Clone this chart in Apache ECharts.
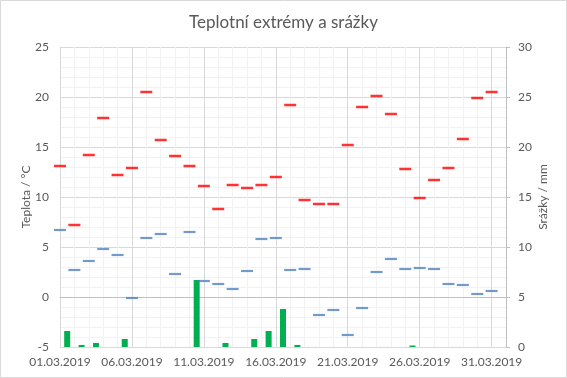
<!DOCTYPE html>
<html><head><meta charset="utf-8">
<script src="https://cdn.jsdelivr.net/npm/echarts@6/dist/echarts.min.js"></script>
<style>html,body{margin:0;padding:0;background:#fff}#c{width:567px;height:378px}</style>
</head><body><div id="c"></div>
<script>
var dates = ['01.03.2019','02.03.2019','03.03.2019','04.03.2019','05.03.2019','06.03.2019','07.03.2019','08.03.2019','09.03.2019','10.03.2019','11.03.2019','12.03.2019','13.03.2019','14.03.2019','15.03.2019','16.03.2019','17.03.2019','18.03.2019','19.03.2019','20.03.2019','21.03.2019','22.03.2019','23.03.2019','24.03.2019','25.03.2019','26.03.2019','27.03.2019','28.03.2019','29.03.2019','30.03.2019','31.03.2019'];
var tMax = [13.1,7.2,14.2,17.9,12.2,12.9,20.5,15.7,14.1,13.1,11.1,8.8,11.2,10.9,11.2,12.0,19.2,9.7,9.3,9.3,15.2,19.0,20.1,18.3,12.8,9.9,11.7,12.9,15.8,19.9,20.5];
var tMin = [6.7,2.7,3.6,4.8,4.2,-0.1,5.9,6.3,2.3,6.5,1.6,1.3,0.8,2.6,5.8,5.9,2.7,2.8,-1.8,-1.3,-3.8,-1.1,2.5,3.8,2.8,2.9,2.8,1.3,1.2,0.3,0.6];
var precip = [1.6,0.2,0.4,0,0.8,0,0,0,0,6.7,0,0.4,0,0.8,1.6,3.8,0.2,0,0,0,0,0,0,0,0.15,0,0,0,0,0,0];
var tempTicks = {min:-5, max:25, interval:5};
var rainTicks = {min:0, max:30, interval:5};

var FONT = 'Lato';
var TXT = '#595959';
var chart = echarts.init(document.getElementById('c'), null, {renderer:'canvas'});
chart.setOption({
  animation:false,
  textStyle:{fontFamily:FONT},
  title:{text:'Teplotní extrémy a srážky', left:'center', top:9,
    textStyle:{fontFamily:FONT, fontSize:17, fontWeight:'normal', color:TXT}},
  graphic:[{type:'rect', shape:{x:0.5,y:0.5,width:566,height:377}, style:{fill:'none', stroke:'#D9D9D9', lineWidth:1}, silent:true}],
  grid:{left:60, right:61, top:47, bottom:31, containLabel:false},
  xAxis:[
    {type:'category', data:dates.concat(['01.04.2019']), boundaryGap:false, z:1,
     axisLine:{show:true, lineStyle:{color:'#BFBFBF'}}, axisTick:{show:false},
     axisLabel:{interval:4, color:TXT, fontSize:12, margin:9, fontFamily:FONT},
     splitLine:{show:true, interval:4, lineStyle:{color:'#D9D9D9'}}},
    {type:'category', data:dates, boundaryGap:true, position:'bottom', z:0,
     axisLine:{show:false}, axisTick:{show:false}, axisLabel:{show:false},
     splitLine:{show:true, interval:0, lineStyle:{color:'#F2F2F2'}}}
  ],
  yAxis:[
    {type:'value', min:tempTicks.min, max:tempTicks.max, interval:tempTicks.interval,
     name:'Teplota / °C', nameLocation:'middle', nameGap:28, nameMoveOverlap:false,
     nameTextStyle:{color:TXT, fontSize:12, fontFamily:FONT},
     axisLine:{show:true, lineStyle:{color:'#D9D9D9'}}, axisTick:{show:false},
     axisLabel:{color:TXT, fontSize:12, margin:11, fontFamily:FONT},
     splitLine:{show:true, lineStyle:{color:'#D9D9D9'}},
     minorTick:{show:false, splitNumber:5},
     minorSplitLine:{show:true, lineStyle:{color:'#F2F2F2'}}},
    {type:'value', min:rainTicks.min, max:rainTicks.max, interval:rainTicks.interval, position:'right',
     name:'Srážky / mm', nameLocation:'middle', nameGap:31, nameRotate:90, nameMoveOverlap:false,
     nameTextStyle:{color:TXT, fontSize:12, fontFamily:FONT},
     axisLine:{show:true, lineStyle:{color:'#BFBFBF'}},
     axisTick:{show:true, length:4, lineStyle:{color:'#BFBFBF'}},
     axisLabel:{color:TXT, fontSize:12, margin:12, fontFamily:FONT},
     splitLine:{show:false}}
  ],
  series:[
    {type:'bar', name:'Srážky', xAxisIndex:1, yAxisIndex:1, data:precip, barWidth:6,
     itemStyle:{color:'#00B050'}, z:2},
    {type:'scatter', name:'Max', xAxisIndex:0, yAxisIndex:0, data:tMax,
     symbol:'rect', symbolSize:[12,2.5], itemStyle:{color:'#FF0000'}, z:3},
    {type:'scatter', name:'Min', xAxisIndex:0, yAxisIndex:0, data:tMin,
     symbol:'rect', symbolSize:[12,2.2], itemStyle:{color:'#4F81BD'}, z:3}
  ]
});
</script></body></html>
